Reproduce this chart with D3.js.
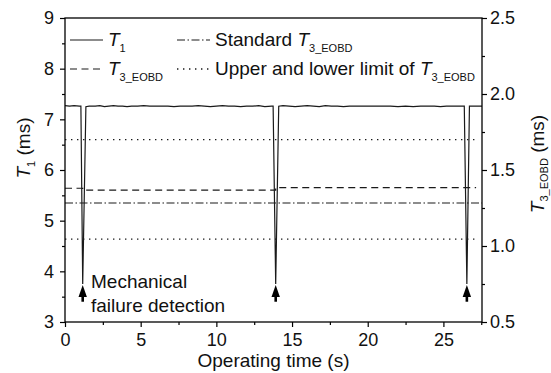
<!DOCTYPE html>
<html>
<head>
<meta charset="utf-8">
<script src="https://cdn.jsdelivr.net/npm/d3@7"></script>
<style>
  body { margin: 0; background: #fff; }
  svg { font-family: "Liberation Sans", Arial, sans-serif; }
</style>
</head>
<body>
<svg id="chart" width="551" height="373"></svg>
<script>
// T1 signal (time s, value ms)
var t1Time = [0, 0.3, 0.6, 0.95, 1.05, 1.17, 1.38, 1.6, 2.0, 2.3, 2.6, 2.9, 3.2, 3.5, 3.8, 4.1, 4.4, 4.8, 5.2, 5.6, 6.0, 6.4, 6.8, 7.2, 7.6, 8.0, 8.4, 8.8, 9.2, 9.6, 10.0, 10.4, 10.8, 11.2, 11.6, 12.0, 12.4, 12.8, 13.2, 13.65, 13.75, 13.92, 14.12, 14.4, 14.8, 15.2, 15.6, 16.0, 16.4, 16.8, 17.2, 17.6, 18.0, 18.4, 18.8, 19.2, 19.6, 20.0, 20.5, 21.0, 21.5, 22.0, 22.5, 23.0, 23.5, 24.0, 24.4, 24.8, 25.2, 25.6, 26.0, 26.3, 26.38, 26.55, 26.72, 27.0, 27.55];
var t1Value = [7.27, 7.26, 7.27, 7.26, 7.26, 3.75, 7.25, 7.26, 7.26, 7.27, 7.25, 7.26, 7.27, 7.26, 7.26, 7.25, 7.26, 7.26, 7.27, 7.26, 7.26, 7.26, 7.26, 7.25, 7.26, 7.26, 7.26, 7.27, 7.26, 7.25, 7.26, 7.27, 7.26, 7.26, 7.25, 7.26, 7.26, 7.27, 7.25, 7.26, 7.26, 3.75, 7.26, 7.27, 7.26, 7.25, 7.26, 7.27, 7.26, 7.25, 7.27, 7.26, 7.26, 7.25, 7.26, 7.26, 7.26, 7.26, 7.26, 7.26, 7.26, 7.25, 7.26, 7.25, 7.26, 7.26, 7.26, 7.25, 7.26, 7.26, 7.26, 7.26, 7.26, 3.75, 7.26, 7.26, 7.26];

// T3_EOBD (right axis) step line
var t3Time = [0, 1.17, 1.17, 13.92, 13.92, 27.16];
var t3Value = [1.38, 1.38, 1.368, 1.368, 1.384, 1.384];

// reference levels on the right axis
var standardT3 = 1.283;
var standardEnd = 27.55;
var limitUpper = 1.70;
var limitLower = 1.045;
var limitEnd = 27.33;

// failure detections (time s), arrow from 3.40 up to 3.73 ms
var failureTimes = [1.17, 13.92, 26.55];
var arrowTip = 3.73, arrowTail = 3.40;

var xTicks = [0, 5, 10, 15, 20, 25];
var xMinor = [2.5, 7.5, 12.5, 17.5, 22.5, 27.5];
var yLeftTicks = [3, 4, 5, 6, 7, 8, 9];
var yLeftMinor = [3.5, 4.5, 5.5, 6.5, 7.5, 8.5];
var yRightTicks = [0.5, 1.0, 1.5, 2.0, 2.5];
var yRightMinor = [0.75, 1.25, 1.75, 2.25];

var plotLeft = 65, plotRight = 482, plotTop = 18, plotBottom = 322;
var ink = "#1a1a1a";

var svg = d3.select("#chart");
var x = d3.scaleLinear().domain([0, 27.55]).range([plotLeft, plotRight]);
var yL = d3.scaleLinear().domain([3, 9]).range([plotBottom, plotTop]);
var yR = d3.scaleLinear().domain([0.5, 2.5]).range([plotBottom, plotTop]);

// ---- data lines
var lineL = d3.line().x(d => x(d[0])).y(d => yL(d[1]));
var lineR = d3.line().x(d => x(d[0])).y(d => yR(d[1]));

svg.append("path")
  .datum([[0, limitUpper], [limitEnd, limitUpper]])
  .attr("d", lineR).attr("fill", "none").attr("stroke", ink)
  .attr("stroke-width", 1.3).attr("stroke-dasharray", "1.4,4.6");
svg.append("path")
  .datum([[0, limitLower], [limitEnd, limitLower]])
  .attr("d", lineR).attr("fill", "none").attr("stroke", ink)
  .attr("stroke-width", 1.3).attr("stroke-dasharray", "1.4,4.6");
svg.append("path")
  .datum([[0, standardT3], [standardEnd, standardT3]])
  .attr("d", lineR).attr("fill", "none").attr("stroke", ink)
  .attr("stroke-width", 1.2).attr("stroke-dasharray", "8,2.5,1.5,2.5");
svg.append("path")
  .datum(t3Time.map((t, i) => [t, t3Value[i]]))
  .attr("d", lineR).attr("fill", "none").attr("stroke", ink)
  .attr("stroke-width", 1.2).attr("stroke-dasharray", "7,4.5");
svg.append("path")
  .datum(t1Time.map((t, i) => [t, t1Value[i]]))
  .attr("d", lineL).attr("fill", "none").attr("stroke", ink)
  .attr("stroke-width", 1.2);

// ---- arrows
failureTimes.forEach(function(t) {
  var cx = x(t), ty = yL(arrowTip), by = yL(arrowTail);
  svg.append("line").attr("x1", cx).attr("x2", cx)
    .attr("y1", ty + 9).attr("y2", by)
    .attr("stroke", "#000").attr("stroke-width", 2.6);
  svg.append("path")
    .attr("d", "M" + cx + "," + ty + "L" + (cx + 4.2) + "," + (ty + 12) +
      "L" + (cx - 4.2) + "," + (ty + 12) + "Z")
    .attr("fill", "#000");
});

// ---- axes
function style(g) {
  g.selectAll(".domain").remove();
  g.selectAll("line").attr("stroke", "#000").attr("stroke-width", 1.2);
  g.selectAll("text").attr("font-size", 18).attr("fill", "#111");
  g.attr("font-family", null).attr("font-size", null);
}
svg.append("g").attr("transform", "translate(0," + plotBottom + ")")
  .call(d3.axisBottom(x).tickValues(xTicks).tickSize(5).tickPadding(6.5).tickFormat(d3.format("d")))
  .call(style);
svg.append("g").attr("transform", "translate(0," + plotBottom + ")")
  .call(d3.axisBottom(x).tickValues(xMinor).tickSize(3).tickFormat(""))
  .call(style);
svg.append("g").attr("transform", "translate(" + plotLeft + ",0)")
  .call(d3.axisLeft(yL).tickValues(yLeftTicks).tickSize(5).tickPadding(6).tickFormat(d3.format("d")))
  .call(style);
svg.append("g").attr("transform", "translate(" + plotLeft + ",0)")
  .call(d3.axisLeft(yL).tickValues(yLeftMinor).tickSize(3).tickFormat(""))
  .call(style);
svg.append("g").attr("transform", "translate(" + plotRight + ",0)")
  .call(d3.axisRight(yR).tickValues(yRightTicks).tickSize(5).tickPadding(3).tickFormat(d3.format(".1f")))
  .call(style);
svg.append("g").attr("transform", "translate(" + plotRight + ",0)")
  .call(d3.axisRight(yR).tickValues(yRightMinor).tickSize(3).tickFormat(""))
  .call(style);

// frame
svg.append("rect").attr("x", plotLeft).attr("y", plotTop)
  .attr("width", plotRight - plotLeft).attr("height", plotBottom - plotTop)
  .attr("fill", "none").attr("stroke", "#000").attr("stroke-width", 1.3);

// ---- titles
svg.append("text").attr("x", (plotLeft + plotRight) / 2).attr("y", 366.5)
  .attr("text-anchor", "middle").attr("font-size", 19).attr("fill", "#111")
  .text("Operating time (s)");

var tl = svg.append("text").attr("transform", "translate(29.5,148) rotate(-90)")
  .attr("text-anchor", "middle").attr("font-size", 19).attr("fill", "#111");
tl.append("tspan").attr("font-style", "italic").text("T");
tl.append("tspan").attr("font-size", 11).attr("dy", 5).text("1");
tl.append("tspan").attr("dy", -5).text(" (ms)");

var tr = svg.append("text").attr("transform", "translate(543.5,164) rotate(-90)")
  .attr("text-anchor", "middle").attr("font-size", 19).attr("fill", "#111");
tr.append("tspan").attr("font-style", "italic").text("T");
tr.append("tspan").attr("font-size", 11).attr("dy", 4).text("3_EOBD");
tr.append("tspan").attr("dy", -4).text(" (ms)");

// ---- annotation
var ann = svg.append("text").attr("font-size", 19).attr("fill", "#111");
ann.append("tspan").attr("x", 91).attr("y", 288).text("Mechanical");
ann.append("tspan").attr("x", 91).attr("y", 311.5).text("failure detection");

// ---- legend
var legend = [
  { x: 70, y: 40, dash: null, w: 1.2, label: ["", "T", "1"] },
  { x: 177, y: 40, dash: "8,2.5,1.5,2.5", w: 1.2, label: ["Standard ", "T", "3_EOBD"] },
  { x: 70, y: 69, dash: "7,4.5", w: 1.2, label: ["", "T", "3_EOBD"] },
  { x: 177, y: 69, dash: "1.4,4.6", w: 1.3, label: ["Upper and lower limit of ", "T", "3_EOBD"] }
];
legend.forEach(function(d) {
  svg.append("line").attr("x1", d.x).attr("x2", d.x + 33)
    .attr("y1", d.y).attr("y2", d.y)
    .attr("stroke", ink).attr("stroke-width", d.w)
    .attr("stroke-dasharray", d.dash);
  var t = svg.append("text").attr("x", d.x + 38).attr("y", d.y + 5.7)
    .attr("font-size", 19).attr("fill", "#111");
  if (d.label[0]) t.append("tspan").text(d.label[0]);
  t.append("tspan").attr("font-style", "italic").text(d.label[1]);
  t.append("tspan").attr("font-size", 11).attr("dy", 6).text(d.label[2]);
});
</script>
</body>
</html>
